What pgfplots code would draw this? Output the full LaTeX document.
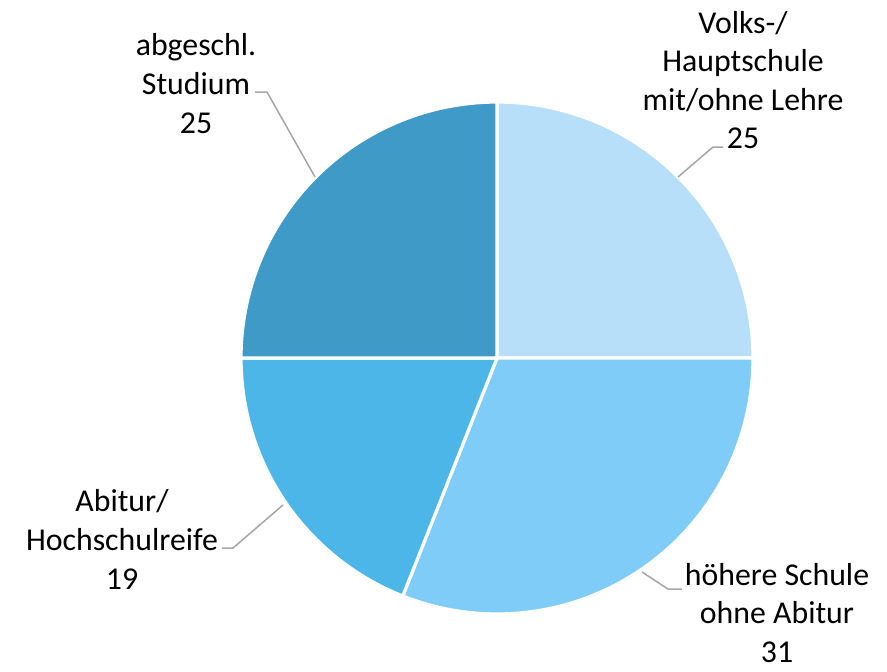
\documentclass[border=0pt]{standalone}
\usepackage{fontspec}
\setmainfont{Carlito}
\usepackage{pgfplots}
\pgfplotsset{compat=1.18}
\definecolor{cA}{HTML}{B8DFF9}
\definecolor{cB}{HTML}{7FCCF8}
\definecolor{cC}{HTML}{4CB6E9}
\definecolor{cD}{HTML}{3F9AC7}
\definecolor{lead}{HTML}{A6A6A6}
\tikzset{lbl/.style={font=\fontsize{15.9}{19.3}\selectfont, align=center, text=black, inner sep=0pt}}
\begin{document}
\begin{tikzpicture}
% values (percent): Volks-/Hauptschule 25, hoehere Schule 31, Abitur 19, Studium 25
\pgfmathsetmacro\aA{90}
\pgfmathsetmacro\aB{\aA-25*3.6}
\pgfmathsetmacro\aC{\aB-31*3.6}
\pgfmathsetmacro\aD{\aC-19*3.6}
\pgfmathsetmacro\aE{\aD-25*3.6}
\begin{axis}[
  scale only axis, width=443.5pt, height=335.5pt,
  xmin=0, xmax=887, ymin=0, ymax=671,
  hide axis, clip=false,
]
\addplot[fill=cA, draw=white, line width=1.6pt, line join=round, domain=\aB:\aA, samples=60, variable=\t]
  ({497+256*cos(\t)},{313+256*sin(\t)}) -- (axis cs:497,313) -- cycle;
\addplot[fill=cB, draw=white, line width=1.6pt, line join=round, domain=\aC:\aB, samples=60, variable=\t]
  ({497+256*cos(\t)},{313+256*sin(\t)}) -- (axis cs:497,313) -- cycle;
\addplot[fill=cC, draw=white, line width=1.6pt, line join=round, domain=\aD:\aC, samples=60, variable=\t]
  ({497+256*cos(\t)},{313+256*sin(\t)}) -- (axis cs:497,313) -- cycle;
\addplot[fill=cD, draw=white, line width=1.6pt, line join=round, domain=\aE:\aD, samples=60, variable=\t]
  ({497+256*cos(\t)},{313+256*sin(\t)}) -- (axis cs:497,313) -- cycle;
% leader lines
\addplot[lead, line width=0.75pt] coordinates {(678,494) (713,524) (723,524)};
\addplot[lead, line width=0.75pt] coordinates {(315,494) (267,579) (255,579)};
\addplot[lead, line width=0.75pt] coordinates {(283,166) (233,123) (222,123)};
\addplot[lead, line width=0.75pt] coordinates {(642,99) (668,82) (682,82)};
% labels
\node[lbl] at (axis cs:743,591) {Volks-/\\Hauptschule\\mit/ohne Lehre\\25};
\node[lbl] at (axis cs:196,587.5) {abgeschl.\\Studium\\25};
\node[lbl] at (axis cs:122,131.5) {Abitur/\\Hochschulreife\\19};
\node[lbl] at (axis cs:777,58) {höhere Schule\\ohne Abitur\\31};
\end{axis}
\pgfresetboundingbox
\path[use as bounding box] (current axis.south west) rectangle (current axis.north east);
\end{tikzpicture}
\end{document}
